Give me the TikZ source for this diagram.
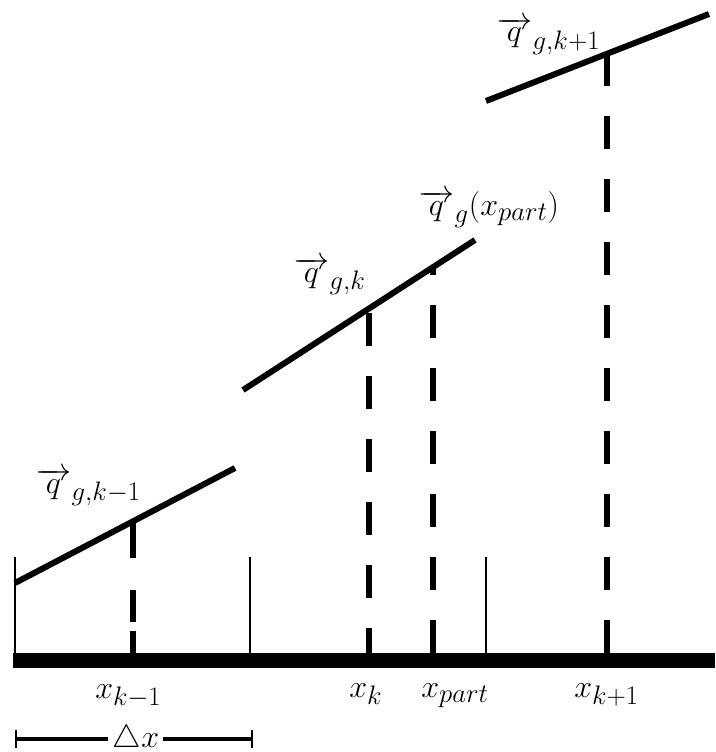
\documentclass[tikz,border=0pt]{standalone}
\begin{document}
\begin{tikzpicture}[x=1pt,y=-1pt,
  lab/.style={inner sep=0pt, anchor=base west, font=\Huge, scale=1.29},
  seg/.style={line width=6pt},
  dsh/.style={line width=6.5pt, dash pattern=on 33pt off 30pt},
  thin/.style={line width=2pt}]
\newcommand{\qv}{\overrightarrow{\mkern6mu q\mkern6mu}}
\useasboundingbox (0,0) rectangle (715,752);
% points
\coordinate (s1a) at (15,583);  \coordinate (s1b) at (235,468);
\coordinate (s2a) at (243,390); \coordinate (s2b) at (475,240);
\coordinate (s3a) at (486,101); \coordinate (s3b) at (709,14);
\coordinate (t1) at (133,521); \coordinate (b1) at (133,653);
\coordinate (t2) at (369,308); \coordinate (b2) at (369,653);
\coordinate (t3) at (433,267); \coordinate (b3) at (433,653);
\coordinate (t4) at (607,55);  \coordinate (b4) at (607,653);
\coordinate (v1a) at (15,557);  \coordinate (v1b) at (15,653);
\coordinate (v2a) at (250,557); \coordinate (v2b) at (250,653);
\coordinate (v3a) at (486,557); \coordinate (v3b) at (486,653);
\coordinate (g1) at (13,653); \coordinate (g2) at (715,668);
% ground bar
\fill (g1) rectangle (g2);
% cell boundaries
\draw[thin] (v1a) -- (v1b);
\draw[thin] (v2a) -- (v2b);
\draw[thin] (v3a) -- (v3b);
% piecewise linear segments
\draw[seg] (s1a) -- (s1b);
\draw[seg] (s2a) -- (s2b);
\draw[seg] (s3a) -- (s3b);
% dashed verticals
\draw[line width=6.5pt, dash pattern=on 37pt off 32pt on 32pt off 9pt on 40pt] (t1) -- (b1);
\draw[dsh, dash phase=8pt] (b2) -- (t2);
\draw[dsh] (b3) -- (t3);
\draw[dsh] (b4) -- (t4);
% labels
\node[lab] (q1) at (35,493) {$\qv_{g,k-1}$};
\node[lab] (q2) at (293,282) {$\qv_{g,k}$};
\node[lab] (q3) at (418,215) {$\qv_{g}(x_{part})$};
\node[lab] (q4) at (496,42) {$\qv_{g,k+1}$};
\node[lab] (x1) at (95,698) {$x_{k-1}$};
\node[lab] (x2) at (349,697) {$x_{k}$};
\node[lab] (x3) at (421,697) {$x_{part}$};
\node[lab] (x4) at (574,697) {$x_{k+1}$};
% Delta x bracket
\node[lab, anchor=base] (dx) at (136,747) {$\triangle x$};
\coordinate (d1) at (16,739); \coordinate (d2) at (252,739);
\draw[line width=4.5pt] (d1) -- ([xshift=-5pt]dx.west |- d1);
\draw[line width=4.5pt] ([xshift=4pt]dx.east |- d2) -- (d2);
\draw[thin] (16,730) -- (16,748);
\draw[thin] (252,730) -- (252,748);
\end{tikzpicture}
\end{document}
